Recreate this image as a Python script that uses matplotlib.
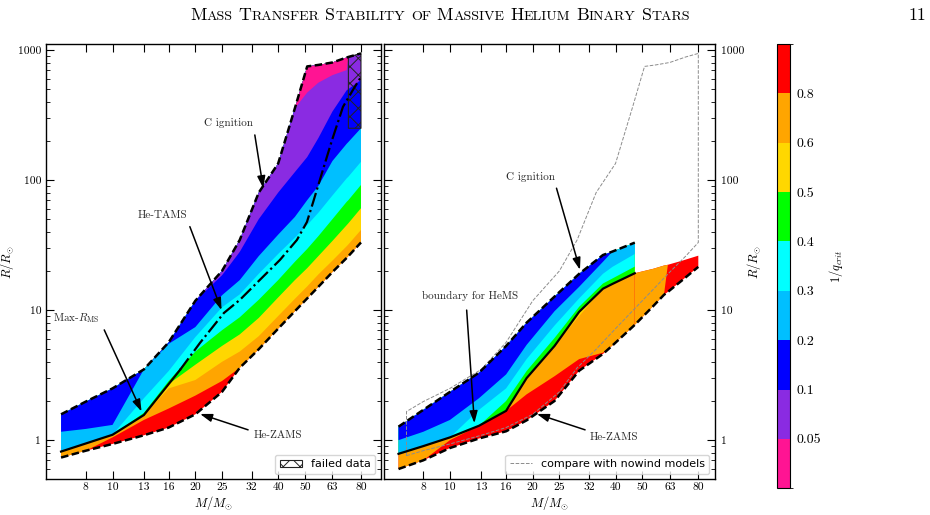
import numpy as np
import matplotlib
matplotlib.use('Agg')
import matplotlib.pyplot as plt
from matplotlib.colors import ListedColormap, BoundaryNorm
from matplotlib.cm import ScalarMappable
from matplotlib.ticker import FixedLocator, FixedFormatter, LogLocator, NullLocator, NullFormatter
from matplotlib.transforms import IdentityTransform

plt.rcParams['font.family'] = 'serif'
plt.rcParams['font.serif'] = ['cmr10']
plt.rcParams['mathtext.fontset'] = 'cm'
plt.rcParams['axes.unicode_minus'] = False
plt.rcParams['hatch.linewidth'] = 0.7

# 1/q_crit bands, from the highest value (red, next to the ZAMS) to the lowest
band_colors = ['red', 'orange', 'gold', 'lime', 'cyan', 'deepskyblue', 'blue', 'blueviolet', 'deeppink']
level_labels = ['0.05', '0.1', '0.2', '0.3', '0.4', '0.5', '0.6', '0.8']

mass_ticks = [8, 10, 13, 16, 20, 25, 32, 40, 50, 63, 80]
radius_ticks = [1, 10, 100, 1000]

# ---- left panel ----
mass_l = [6.5, 8, 10, 13, 16, 20, 25, 29, 34, 40, 46, 51, 56, 63, 71, 72, 80]
zams_l = [0.735, 0.83, 0.935, 1.09, 1.25, 1.58, 2.35, 3.6, 5.0, 7.2, 9.8, 12.3, 15.1, 19.6, 25.2, 26.0, 33.1]
cign_l = [1.58, 1.98, 2.5, 3.5, 5.65, 11.8, 20, 34.6, 80, 134, 356, 747, 767, 801, 875, 883, 940]
# radius where 1/q_crit crosses 0.8, 0.6, 0.5, 0.4, 0.3, 0.2, 0.1, 0.05
cut08_l = [0.735, 0.83, 1.05, 1.43, 1.75, 2.2, 2.85, 3.6, 5.0, 7.2, 9.8, 12.3, 15.1, 19.6, 25.2, 26.0, 33.1]
cut06_l = [0.817, 0.943, 1.10, 1.56, 2.5, 2.9, 4.0, 4.8, 6.3, 9.0, 12.2, 15.2, 18.8, 24, 31, 32, 41.3]
cut05_l = [0.817, 0.943, 1.10, 1.56, 2.7, 3.8, 5.3, 6.5, 8.7, 12.5, 17, 21, 26, 34, 45, 46.5, 60.7]
cut04_l = [0.817, 0.943, 1.10, 1.62, 2.85, 4.8, 7.0, 8.8, 12, 17, 23.5, 29.5, 37, 50, 68, 70, 91.6]
cut03_l = [0.817, 0.943, 1.10, 2.1, 3.4, 6.2, 10.5, 13.2, 19, 27, 36, 45, 56, 76, 103, 106, 138]
cut02_l = [1.16, 1.22, 1.31, 3.5, 5.5, 7.4, 13, 17, 26, 38, 52, 70, 90, 140, 190, 196, 250]
cut01_l = [1.58, 1.98, 2.5, 3.5, 5.65, 11.8, 18.5, 28, 50, 80, 115, 150, 210, 336, 490, 500, 588]
cut005_l = [1.58, 1.98, 2.5, 3.5, 5.65, 11.8, 20, 34.6, 80, 134, 356, 470, 560, 640, 700, 883, 940]

maxms_mass = [6.5, 10, 13, 17.6]
maxms_r = [0.817, 1.10, 1.56, 3.47]
tams_mass = [17.6, 20.8, 25.4, 29.05, 34.35, 40.6, 46.8, 50.9, 53.5, 57.7, 62.8, 68.8, 74.8, 80]
tams_r = [3.47, 5.6, 9.5, 12.0, 17.1, 24.3, 34.6, 47.6, 66.7, 113, 203, 365, 493, 620]

fail_mass = [72, 80]
fail_lo = [250, 250]
fail_hi = [883, 940]

# ---- outline of the nowind models (grey, right panel) ----
mass_nw = [6.95, 8, 10, 13, 16, 20, 25, 29, 34, 40, 46, 51, 56, 63, 72, 80]
zams_nw = [0.76, 0.83, 0.935, 1.09, 1.25, 1.58, 2.35, 3.6, 5.0, 7.2, 9.8, 12.3, 15.1, 19.6, 26.0, 33.1]
cign_nw = [1.66, 1.98, 2.5, 3.5, 5.65, 11.8, 20, 34.6, 80, 134, 356, 747, 767, 801, 883, 940]

# ---- right panel, up to the end of the C-ignition track ----
mass_a = [6.5, 8, 10, 12.75, 16, 19, 24, 29.5, 36, 39, 47]
zams_a = [0.60, 0.70, 0.87, 1.03, 1.17, 1.42, 2.0, 3.42, 4.6, 5.35, 7.7]
cign_a = [1.27, 1.71, 2.35, 3.3, 5.3, 8.0, 12.7, 19.0, 26.5, 28.2, 33.0]
hems_a = [0.785, 0.90, 1.05, 1.29, 1.68, 3.0, 5.3, 9.7, 14.6, 15.9, 19.2]
cut08_a = [0.60, 0.70, 1.0, 1.29, 1.68, 2.25, 3.1, 4.2, 4.7, 5.35, 7.7]
cut06_a = [0.785, 0.90, 1.05, 1.29, 1.68, 3.0, 5.3, 9.0, 14.6, 15.9, 19.2]
cut05_a = [0.785, 0.90, 1.05, 1.29, 1.68, 3.0, 5.3, 9.7, 14.6, 15.9, 19.2]
cut04_a = [0.785, 0.90, 1.05, 1.29, 2.0, 3.4, 6.1, 10.6, 16.0, 17.5, 21.6]
cut03_a = [0.785, 0.90, 1.05, 1.71, 2.5, 4.2, 7.6, 12.3, 19.0, 21.5, 27.0]
cut02_a = [1.0, 1.16, 1.43, 2.1, 3.2, 5.4, 9.8, 15.1, 23.5, 28.2, 33.0]

# ---- right panel, massive end (only helium main sequence data) ----
mass_b = [47, 55, 60, 62, 70, 80]
zams_b = [7.7, 10.8, 13.1, 13.8, 17.0, 21.5]
edge_b = [19.2, 20.8, 22.0, 22.3, 24.0, 26.2]
cut08_b = [7.7, 10.8, 13.1, 22.3, 24.0, 26.2]


def draw_bands(ax, mass, zams, cuts, top):
    zams = np.asarray(zams, float)
    top = np.asarray(top, float)
    edges = [np.clip(np.asarray(c, float), zams, top) for c in cuts]
    edges = np.maximum.accumulate(np.array([zams] + edges), axis=0)
    for k, col in enumerate(band_colors):
        ax.fill_between(mass, edges[k], top, facecolor=col, edgecolor='none', lw=0, zorder=1)


def setup(ax, xlim):
    ax.set_xscale('log')
    ax.set_yscale('log')
    ax.set_xlim(*xlim)
    ax.set_ylim(0.5, 1105)
    ax.xaxis.set_major_locator(FixedLocator(mass_ticks))
    ax.xaxis.set_major_formatter(FixedFormatter([str(m) for m in mass_ticks]))
    ax.xaxis.set_minor_locator(NullLocator())
    ax.yaxis.set_major_locator(FixedLocator(radius_ticks))
    ax.yaxis.set_major_formatter(FixedFormatter([str(r) for r in radius_ticks]))
    ax.yaxis.set_minor_locator(LogLocator(base=10, subs=np.arange(2, 10), numticks=20))
    ax.yaxis.set_minor_formatter(NullFormatter())
    ax.tick_params(which='both', direction='in', top=True, bottom=True, left=True, right=True,
                   labelsize=8.3, color='k')
    ax.tick_params(which='major', length=6, width=0.8)
    ax.tick_params(which='minor', length=3, width=0.6)
    ax.tick_params(axis='x', pad=2.5)
    for sp in ax.spines.values():
        sp.set_linewidth(1.0)
    ax.set_xlabel(r'$M/M_{\odot}$', fontsize=9, labelpad=1)


def arrow_label(ax, text, text_xy, start, tip):
    ax.text(text_xy[0], text_xy[1], text, ha='center', va='center', fontsize=8, color='0.15', zorder=5)
    ax.annotate('', xy=tip, xytext=start, zorder=5,
                arrowprops=dict(arrowstyle='-|>,head_length=0.6,head_width=0.2', color='k', lw=1.1,
                                shrinkA=0, shrinkB=0, mutation_scale=12))


dash = (0, (3.0, 1.4))

fig = plt.figure(figsize=(9.3, 5.15), dpi=100)
ax1 = fig.add_axes([0.04946, 0.06932, 0.35968, 0.84466])
ax2 = fig.add_axes([0.41344, 0.06932, 0.35538, 0.84466])
cax = fig.add_axes([0.83516, 0.05184, 0.0143, 0.86272])

# left panel
setup(ax1, (5.73, 94.2))
draw_bands(ax1, mass_l, zams_l,
           [cut08_l, cut06_l, cut05_l, cut04_l, cut03_l, cut02_l, cut01_l, cut005_l], cign_l)
ax1.fill_between(fail_mass, fail_lo, fail_hi, facecolor='none', edgecolor='#222222', hatch='xx',
                 lw=0.8, zorder=2, label='failed data')
ax1.plot(mass_l, zams_l, color='k', lw=1.8, ls=dash, zorder=3)
ax1.plot(mass_l, cign_l, color='k', lw=1.8, ls=dash, zorder=3)
ax1.plot(maxms_mass, maxms_r, color='k', lw=1.6, zorder=3)
ax1.plot(tams_mass, tams_r, color='k', lw=1.6, ls='-.', zorder=3)
ax1.set_ylabel(r'$R/R_{\odot}$', fontsize=9, labelpad=1)
arrow_label(ax1, 'C ignition', (26.3, 276), (32.9, 222), (35.3, 86.5))
arrow_label(ax1, 'He-TAMS', (15.2, 53.9), (19.1, 43.8), (24.9, 10.0))
arrow_label(ax1, r'Max-$R_{\rm MS}$', (7.4, 8.67), (9.33, 7.04), (12.75, 1.66))
arrow_label(ax1, 'He-ZAMS', (39.8, 1.10), (31.1, 1.20), (20.8, 1.59))
ax1.legend(loc='lower right', prop={'family': 'DejaVu Sans', 'size': 8}, handlelength=2.0)

# right panel
setup(ax2, (5.78, 92.0))
draw_bands(ax2, mass_a, zams_a,
           [cut08_a, cut06_a, cut05_a, cut04_a, cut03_a, cut02_a, cign_a, cign_a], cign_a)
draw_bands(ax2, mass_b, zams_b,
           [cut08_b, edge_b, edge_b, edge_b, edge_b, edge_b, edge_b, edge_b], edge_b)
outline_m = np.r_[mass_nw, mass_nw[::-1], mass_nw[0]]
outline_r = np.r_[zams_nw, cign_nw[::-1], zams_nw[0]]
ax2.plot(outline_m, outline_r, color='0.55', lw=0.7, ls='--', zorder=2, label='compare with nowind models')
ax2.plot(mass_a + mass_b[1:], zams_a + zams_b[1:], color='k', lw=1.8, ls=dash, zorder=3)
ax2.plot(mass_a, cign_a, color='k', lw=1.8, ls=dash, zorder=3)
ax2.plot(mass_a, hems_a, color='k', lw=1.6, zorder=3)
ax2.tick_params(axis='y', labelleft=False, labelright=True, pad=4.5)
ax2.yaxis.set_label_position('right')
ax2.set_ylabel(r'$R/R_{\odot}$', fontsize=9, labelpad=0)
arrow_label(ax2, 'C ignition', (19.7, 106), (24.4, 86.5), (29.7, 20.4))
arrow_label(ax2, 'boundary for HeMS', (11.8, 12.9), (11.5, 10.0), (12.27, 1.35))
arrow_label(ax2, 'He-ZAMS', (39.3, 1.05), (31.0, 1.2), (20.7, 1.59))
ax2.legend(loc='lower right', prop={'family': 'DejaVu Sans', 'size': 8}, handlelength=2.0)

# colour bar
sm = ScalarMappable(norm=BoundaryNorm(np.arange(10), 9), cmap=ListedColormap(band_colors[::-1]))
cbar = fig.colorbar(sm, cax=cax, ticks=np.arange(1, 9))
cbar.ax.set_yticklabels(level_labels)
cbar.ax.tick_params(length=0, labelsize=10, pad=5)
cbar.outline.set_linewidth(0.8)
cbar.set_label(r'$1/q_{crit}$', fontsize=9, labelpad=4)

# running head in small capitals
renderer = fig.canvas.get_renderer()
head = 'Mass Transfer Stability of Massive Helium Binary Stars'
big, small = 12.9, 10.1
pieces = []
for w_i, word in enumerate(head.split()):
    if w_i:
        pieces.append((' ', big))
    run, size = '', None
    for ch in word:
        s = big if ch.isupper() else small
        if size is not None and s != size:
            pieces.append((run, size))
            run = ''
        run += ch.upper()
        size = s
    pieces.append((run, size))

widths = []
for txt, size in pieces:
    if txt == ' ':
        widths.append(0.333 * size * 100 / 72)
        continue
    t = fig.text(0, 0, txt, fontsize=size, transform=IdentityTransform())
    widths.append(t.get_window_extent(renderer).width)
    t.remove()
x = 440 - sum(widths) / 2
base = 515 - 20
for (txt, size), w in zip(pieces, widths):
    if txt != ' ':
        fig.text(x, base, txt, fontsize=size, va='baseline', ha='left', transform=IdentityTransform())
    x += w
fig.text(926, base, '11', fontsize=big, va='baseline', ha='right', transform=IdentityTransform())

fig.savefig('out.png', dpi=100)
